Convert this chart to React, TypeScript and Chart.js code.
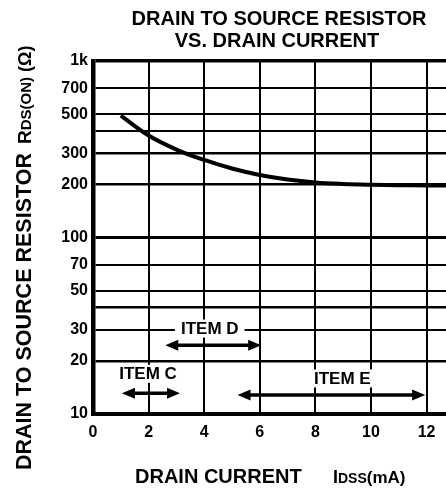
import { useEffect, useRef } from "react";
import { Chart, registerables } from "chart.js";

Chart.register(...registerables);

const FONT = '"Liberation Sans", Arial, Helvetica, sans-serif';

// Curve: drain current (mA) vs RDS(ON) (ohm)
const drainCurrent = [1, 2, 3, 4, 5, 6, 7, 8, 9, 10, 11, 12, 12.7];
const rdsOn = [490, 378, 315, 275, 246, 226, 213, 205, 201, 199, 198, 197, 197];

// Axis ticks
const xTickValues = [0, 2, 4, 6, 8, 10, 12];
const yTickValues = [10, 20, 30, 40, 50, 70, 100, 200, 300, 400, 500, 700, 1000];
const yTickLabels = ["10", "20", "30", "", "50", "70", "100", "200", "300", "", "500", "700", "1k"];
const yGridWidths = [3, 2.5, 2, 2.5, 2, 2, 3, 2.5, 2.5, 2, 2, 2, 3.5];

// Range annotations
const itemNames = ["ITEM C", "ITEM D", "ITEM E"];
const itemStart = [1.04, 2.6, 5.2];
const itemEnd = [3.13, 6.05, 11.95];
const itemArrowLevel = [13.1, 24.5, 12.8];
const itemLabelX = [1.98, 4.2, 8.97];
const itemLabelLevel = [16.9, 30.5, 15.9];

const titleLines = ["DRAIN TO SOURCE RESISTOR", "VS. DRAIN CURRENT"];

function drawArrow(ctx: CanvasRenderingContext2D, x1: number, x2: number, y: number) {
  const head = 13;
  const half = 5.5;
  ctx.save();
  ctx.strokeStyle = "#000";
  ctx.fillStyle = "#000";
  ctx.lineWidth = 3.5;
  ctx.beginPath();
  ctx.moveTo(x1 + head - 2, y);
  ctx.lineTo(x2 - head + 2, y);
  ctx.stroke();
  ctx.beginPath();
  ctx.moveTo(x1, y);
  ctx.lineTo(x1 + head, y - half);
  ctx.lineTo(x1 + head, y + half);
  ctx.closePath();
  ctx.fill();
  ctx.beginPath();
  ctx.moveTo(x2, y);
  ctx.lineTo(x2 - head, y - half);
  ctx.lineTo(x2 - head, y + half);
  ctx.closePath();
  ctx.fill();
  ctx.restore();
}

const decorPlugin = {
  id: "decor",
  afterDatasetsDraw(chart: any) {
    const ctx: CanvasRenderingContext2D = chart.ctx;
    const xs = chart.scales.x;
    const ys = chart.scales.y;
    for (let i = 0; i < itemNames.length; i++) {
      const lx = xs.getPixelForValue(itemLabelX[i]);
      const ly = ys.getPixelForValue(itemLabelLevel[i]);
      ctx.save();
      ctx.font = `bold 17px ${FONT}`;
      const w = ctx.measureText(itemNames[i]).width;
      ctx.fillStyle = "#fff";
      ctx.fillRect(lx - w / 2 - 6, ly - 9, w + 12, 18);
      ctx.fillStyle = "#000";
      ctx.textAlign = "center";
      ctx.textBaseline = "middle";
      ctx.fillText(itemNames[i], lx, ly + 1);
      ctx.restore();
      drawArrow(
        ctx,
        xs.getPixelForValue(itemStart[i]),
        xs.getPixelForValue(itemEnd[i]),
        ys.getPixelForValue(itemArrowLevel[i])
      );
    }
  },
  afterDraw(chart: any) {
    const ctx: CanvasRenderingContext2D = chart.ctx;
    ctx.save();
    ctx.fillStyle = "#000";
    ctx.font = `bold 20px ${FONT}`;
    ctx.textAlign = "center";
    ctx.textBaseline = "alphabetic";
    ctx.fillText(titleLines[0], 279, 25);
    ctx.fillText(titleLines[1], 277, 47);

    ctx.textAlign = "left";
    let x = 135;
    ctx.font = `bold 20px ${FONT}`;
    ctx.fillText("DRAIN CURRENT", x, 483);
    x = 333;
    ctx.font = `bold 18px ${FONT}`;
    ctx.fillText("I", x, 483);
    x += ctx.measureText("I").width;
    ctx.font = `bold 14px ${FONT}`;
    ctx.fillText("DSS", x, 483);
    x += ctx.measureText("DSS").width;
    ctx.font = `bold 17px ${FONT}`;
    ctx.fillText("(mA)", x, 483);

    ctx.translate(31, 470);
    ctx.rotate(-Math.PI / 2);
    ctx.textAlign = "left";
    let p = 0;
    ctx.font = `bold 21.5px ${FONT}`;
    ctx.fillText("DRAIN TO SOURCE RESISTOR", p, 0);
    p += ctx.measureText("DRAIN TO SOURCE RESISTOR").width + 9;
    ctx.font = `bold 19px ${FONT}`;
    ctx.fillText("R", p, 0);
    p += ctx.measureText("R").width;
    ctx.font = `bold 15px ${FONT}`;
    ctx.fillText("DS(ON)", p, 0);
    p += ctx.measureText("DS(ON)").width + 5;
    ctx.font = `bold 18px ${FONT}`;
    ctx.fillText("(\u03A9)", p, 0);
    ctx.restore();
  },
};

export default function App() {
  const ref = useRef<HTMLCanvasElement | null>(null);

  useEffect(() => {
    if (!ref.current) return;
    Chart.defaults.font.family = FONT;
    const chart = new Chart(ref.current, {
      type: "line",
      data: {
        datasets: [
          {
            data: drainCurrent.map((v, i) => ({ x: v, y: rdsOn[i] })),
            borderColor: "#000",
            borderWidth: 4,
            pointRadius: 0,
            tension: 0.4,
            fill: false,
          },
        ],
      },
      options: {
        animation: false,
        responsive: false,
        devicePixelRatio: 1,
        layout: { padding: { top: 61, left: 0, right: 0, bottom: 0 } },
        plugins: {
          legend: { display: false },
          tooltip: { enabled: false },
          title: { display: false },
        },
        scales: {
          x: {
            type: "linear",
            min: 0,
            max: 12.7,
            afterBuildTicks: (scale: any) => {
              scale.ticks = xTickValues.map((v) => ({ value: v }));
            },
            afterFit: (scale: any) => {
              scale.height = 78;
            },
            grid: { color: "#000", lineWidth: 2, drawTicks: false },
            border: { display: true, color: "#000", width: 3.5 },
            ticks: {
              color: "#000",
              font: { size: 16, weight: "bold" },
              padding: 9,
              maxRotation: 0,
              autoSkip: false,
              callback: (v: any) => String(v),
            },
          },
          y: {
            type: "logarithmic",
            min: 10,
            max: 1000,
            afterBuildTicks: (scale: any) => {
              scale.ticks = yTickValues.map((v) => ({ value: v }));
            },
            afterFit: (scale: any) => {
              scale.width = 93;
            },
            grid: {
              color: "#000",
              drawTicks: false,
              lineWidth: (c: any) => {
                const idx = yTickValues.indexOf(c.tick ? c.tick.value : -1);
                return idx >= 0 ? yGridWidths[idx] : 2;
              },
            },
            border: { display: true, color: "#000", width: 4.5 },
            ticks: {
              color: "#000",
              font: { size: 16, weight: "bold" },
              padding: 5,
              autoSkip: false,
              callback: (_v: any, i: number) => yTickLabels[i],
            },
          },
        },
      },
      plugins: [decorPlugin],
    } as any);
    return () => chart.destroy();
  }, []);

  return (
    <div style={{ position: "fixed", left: 0, top: 0, width: 446, height: 492, background: "#fff" }}>
      <canvas ref={ref} width={446} height={492} style={{ display: "block" }} />
    </div>
  );
}
